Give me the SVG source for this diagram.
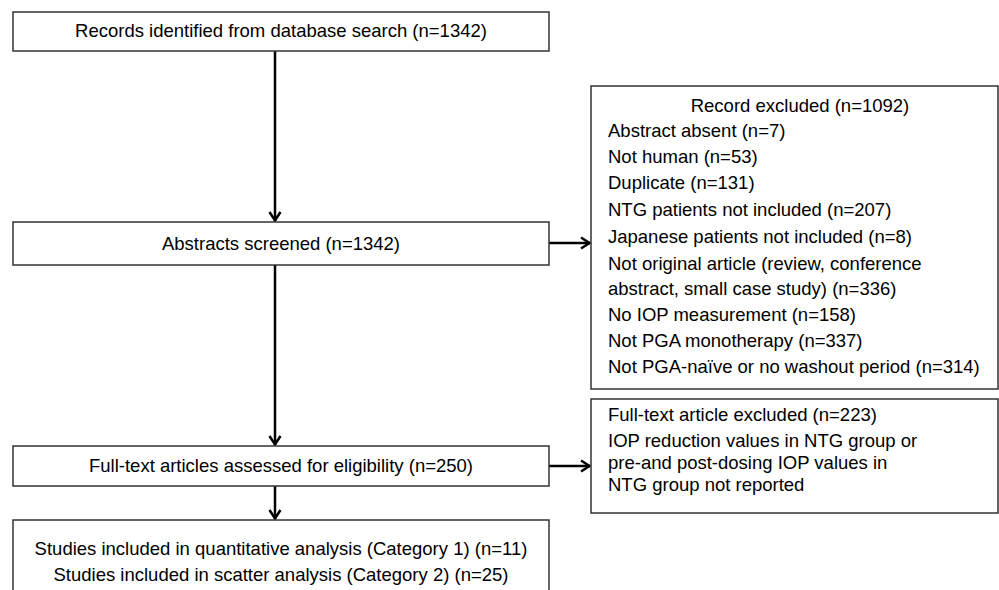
<svg xmlns="http://www.w3.org/2000/svg" width="999" height="590" viewBox="0 0 999 590">
<style>
.box{fill:#fff;stroke:#333;stroke-width:1.5}
.t{font-family:"Liberation Sans",Arial,sans-serif;font-size:18.5px;fill:#000}
.c{text-anchor:middle}
.con{stroke:#000;stroke-width:2.5;fill:none}
</style>
<defs>
<marker id="ah" markerUnits="userSpaceOnUse" viewBox="-12 -7 14 14" markerWidth="14" markerHeight="14" refX="0" refY="0" orient="auto" overflow="visible">
<path d="M-9,-5.5 L-0.5,0 L-9,5.5" fill="none" stroke="#000" stroke-width="2.5"/>
</marker>
</defs>
<rect width="999" height="590" fill="#fff"/>
<g id="connectors">
<line class="con" x1="275" y1="51" x2="275" y2="221" marker-end="url(#ah)"/>
<line class="con" x1="549" y1="243" x2="590" y2="243" marker-end="url(#ah)"/>
<line class="con" x1="275" y1="265" x2="275" y2="445" marker-end="url(#ah)"/>
<line class="con" x1="549" y1="466" x2="590" y2="466" marker-end="url(#ah)"/>
<line class="con" x1="275" y1="486" x2="275" y2="519" marker-end="url(#ah)"/>
</g>
<g id="n1">
<rect class="box" x="13" y="12" width="536" height="39"/>
<text class="t c" x="281" y="37">Records identified from database search (n=1342)</text>
</g>
<g id="n2">
<rect class="box" x="13" y="222" width="536" height="43"/>
<text class="t c" x="281" y="250">Abstracts screened (n=1342)</text>
</g>
<g id="n3">
<rect class="box" x="591" y="86" width="407" height="303"/>
<text class="t c" x="800" y="112">Record excluded (n=1092)</text>
<text class="t" x="608" y="137">Abstract absent (n=7)</text>
<text class="t" x="608" y="163">Not human (n=53)</text>
<text class="t" x="608" y="189">Duplicate (n=131)</text>
<text class="t" x="608" y="216">NTG patients not included (n=207)</text>
<text class="t" x="608" y="243">Japanese patients not included (n=8)</text>
<text class="t" x="608" y="270">Not original article (review, conference</text>
<text class="t" x="608" y="295">abstract, small case study) (n=336)</text>
<text class="t" x="608" y="321">No IOP measurement (n=158)</text>
<text class="t" x="608" y="347">Not PGA monotherapy (n=337)</text>
<text class="t" x="608" y="373">Not PGA-naïve or no washout period (n=314)</text>
</g>
<g id="n4">
<rect class="box" x="13" y="446" width="536" height="40"/>
<text class="t c" x="281" y="472">Full-text articles assessed for eligibility (n=250)</text>
</g>
<g id="n5">
<rect class="box" x="591" y="399" width="407" height="114"/>
<text class="t" x="608" y="421">Full-text article excluded (n=223)</text>
<text class="t" x="608" y="447">IOP reduction values in NTG group or</text>
<text class="t" x="608" y="469">pre-and post-dosing IOP values in</text>
<text class="t" x="608" y="491">NTG group not reported</text>
</g>
<g id="n6">
<rect class="box" x="13" y="520" width="536" height="80"/>
<text class="t c" x="281" y="555">Studies included in quantitative analysis (Category 1) (n=11)</text>
<text class="t c" x="281" y="581">Studies included in scatter analysis (Category 2) (n=25)</text>
</g>
</svg>
